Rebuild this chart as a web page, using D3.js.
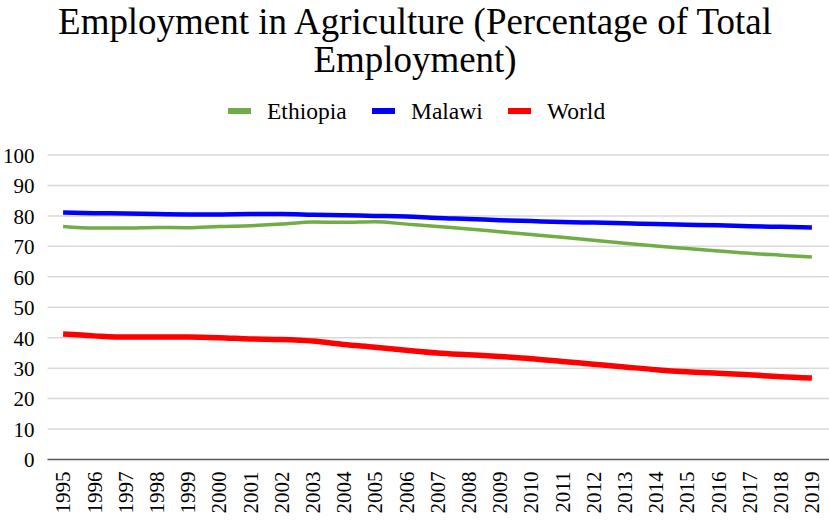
<!DOCTYPE html>
<html><head><meta charset="utf-8">
<script src="https://cdn.jsdelivr.net/npm/d3@7"></script>
<style>body{margin:0;background:#fff}svg{display:block}text{font-family:"Liberation Serif","Times New Roman",serif;fill:#000}</style>
</head><body>
<svg id="c" width="829" height="523"></svg>
<script>
const years = ["1995","1996","1997","1998","1999","2000","2001","2002","2003","2004","2005","2006","2007","2008","2009","2010","2011","2012","2013","2014","2015","2016","2017","2018","2019"];
const ethiopia = [76.5,76.0,76.0,76.2,76.1,76.5,76.8,77.3,78.0,77.9,78.1,77.3,76.5,75.7,74.8,73.9,73.0,72.0,71.0,70.1,69.3,68.5,67.7,67.1,66.5];
const malawi = [81.1,80.9,80.8,80.6,80.5,80.5,80.6,80.6,80.4,80.2,80.0,79.8,79.3,79.0,78.6,78.3,78.0,77.8,77.6,77.3,77.1,76.9,76.6,76.4,76.2];
const world = [41.2,40.6,40.2,40.2,40.2,40.0,39.6,39.4,38.9,37.8,36.9,35.9,35.0,34.4,33.8,33.1,32.2,31.3,30.4,29.5,28.8,28.3,27.8,27.2,26.8];
const yTicks = [0,10,20,30,40,50,60,70,80,90,100];
const seriesNames = ["Ethiopia","Malawi","World"];
const seriesColors = ["#70ad47","#0000ff","#ff0000"];
const seriesWidths = [3.5,4.5,5.5];
const seriesData = [ethiopia, malawi, world];

(function(){
const svg = d3.select("#c");
const pL = 47.5, pR = 827.5, pT = 155, pB = 459.5;
const x = d3.scaleBand().domain(years).range([pL, pR]);
const y = d3.scaleLinear().domain([0,100]).range([pB, pT]);

// title
const title = svg.append("text").attr("text-anchor","middle").attr("font-size",38.5)
  .attr("transform","translate(415,0) scale(0.96,1)");
title.append("tspan").attr("x",0).attr("y",34).text("Employment in Agriculture (Percentage of Total");
title.append("tspan").attr("x",0).attr("y",72.5).text("Employment)");

// gridlines
svg.append("g").selectAll("line").data(yTicks.filter(d=>d>0)).join("line")
  .attr("x1",pL).attr("x2",829).attr("y1",d=>y(d)).attr("y2",d=>y(d))
  .attr("stroke","#d9d9d9").attr("stroke-width",1.5);

// y axis
const ya = svg.append("g").attr("transform",`translate(${pL},0)`)
  .call(d3.axisLeft(y).tickValues(yTicks).tickSize(0).tickPadding(13));
ya.select(".domain").remove();
ya.selectAll("text").attr("font-size",21).attr("font-family","Liberation Serif").attr("fill","#000").attr("dy","0.35em");

// x axis
const xa = svg.append("g").attr("transform",`translate(0,${pB})`)
  .call(d3.axisBottom(x).tickSize(0).tickPadding(0));
xa.select(".domain").remove();
xa.selectAll("text").attr("font-size",21).attr("font-family","Liberation Serif").attr("fill","#000")
  .attr("transform","rotate(-90)").attr("text-anchor","end").attr("x",-12).attr("y",0).attr("dy","0.35em");
svg.append("line").attr("x1",pL).attr("x2",829).attr("y1",pB).attr("y2",pB)
  .attr("stroke","#595959").attr("stroke-width",1.5);

// lines
const line = d3.line().x((d,i)=>x(years[i])+x.bandwidth()/2).y(d=>y(d)).curve(d3.curveMonotoneX);
seriesData.forEach((s,k)=>{
  svg.append("path").datum(s).attr("d",line).attr("fill","none")
    .attr("stroke",seriesColors[k]).attr("stroke-width",seriesWidths[k]).attr("stroke-linejoin","round");
});

// legend
const legX = [228,372,508];
const lg = svg.append("g");
seriesNames.forEach((n,k)=>{
  lg.append("rect").attr("x",legX[k]).attr("y",108).attr("width",23).attr("height",6).attr("fill",seriesColors[k]);
  lg.append("text").attr("x",legX[k]+39).attr("y",118.5).attr("font-size",23.5).text(n);
});
})();
</script>
</body></html>
